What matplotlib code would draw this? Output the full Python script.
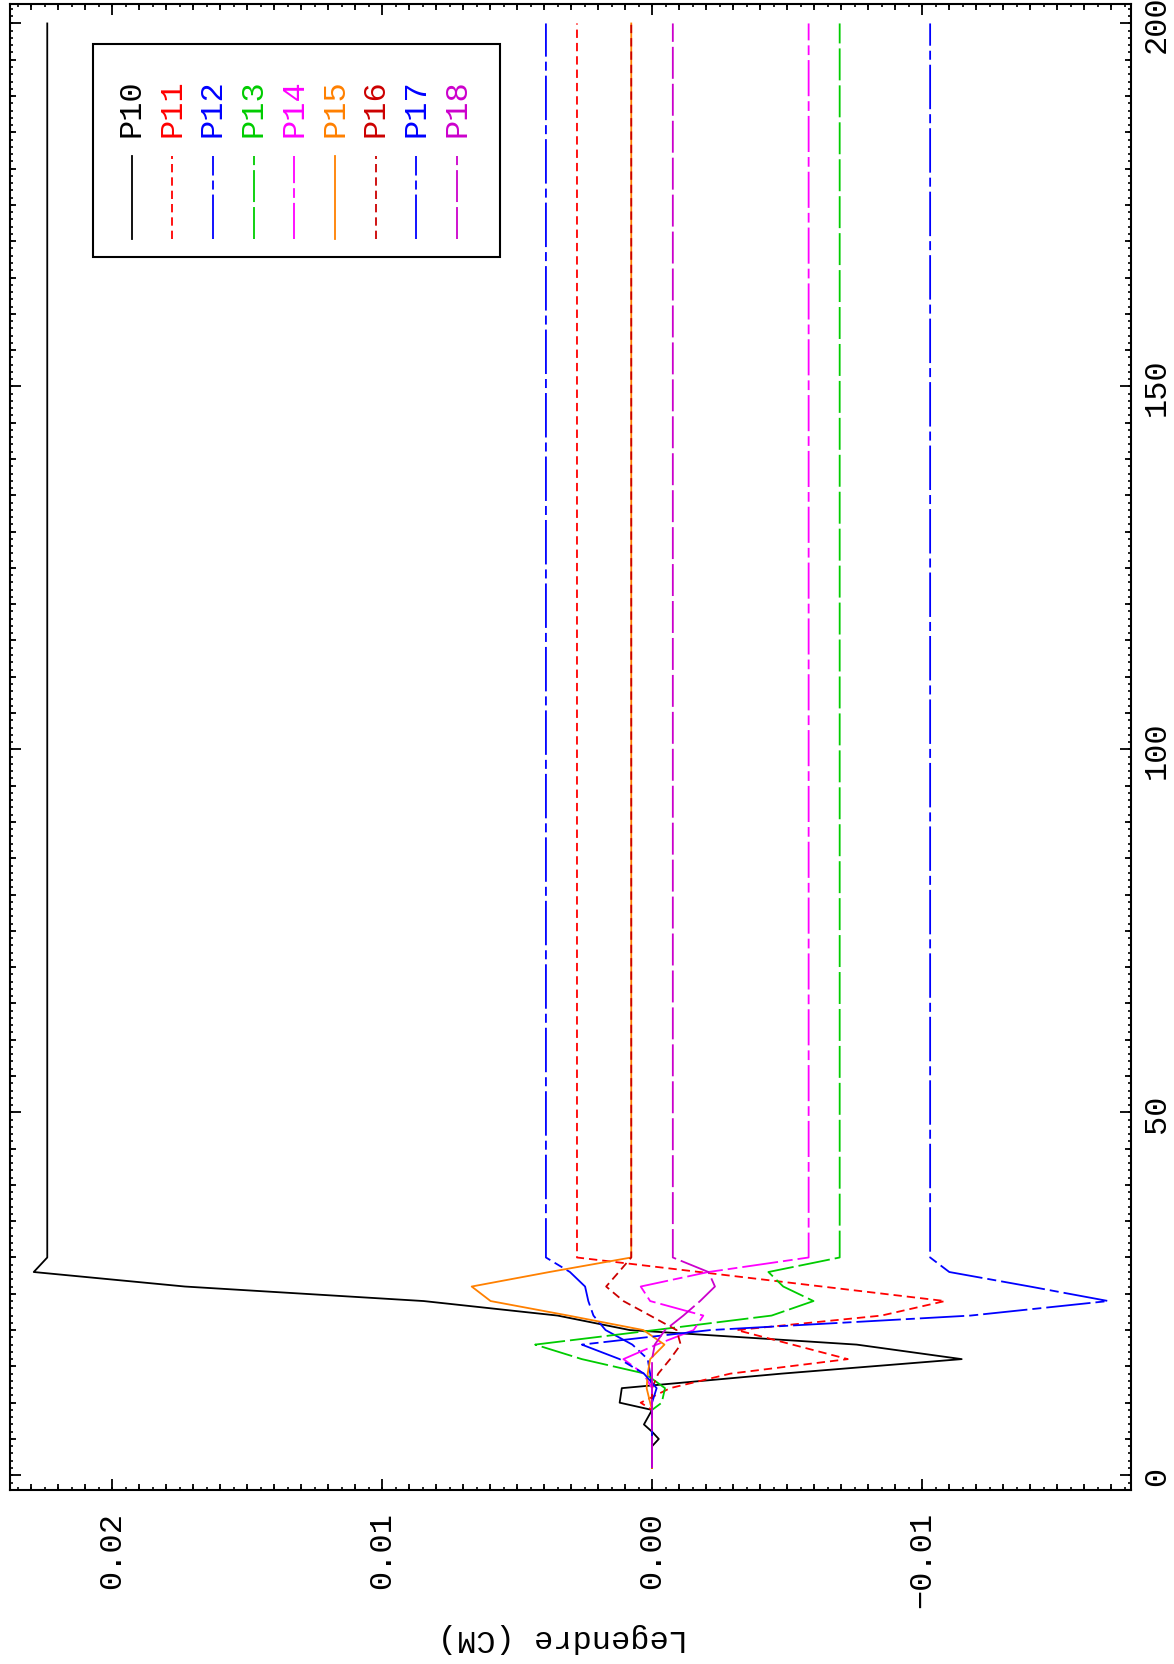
import numpy as np
import matplotlib
matplotlib.use("Agg")
import matplotlib.pyplot as plt
from matplotlib.ticker import FixedLocator, MultipleLocator
from matplotlib.lines import Line2D
from matplotlib.patches import Rectangle

plt.rcParams['font.family'] = ['Liberation Mono', 'DejaVu Sans']
plt.rcParams['lines.scale_dashes'] = False

# ---------------- data ----------------
T = [1, 2, 3, 4, 5, 6, 7, 8, 9, 10, 12, 14, 16, 18, 20, 22, 24, 26, 28, 30, 200]

P10 = [0, 0, 0, 0, -0.00025, 0.0, 0.0003, 0.00015, 0.0, 0.0012, 0.00112, -0.0048,
       -0.01147, -0.00758, 0.00082, 0.0035, 0.00846, 0.0173, 0.0229, 0.0224, 0.0224]
P11 = [0, 0, 0, 0, 0, 0, 0, 0, 0, 0.00042, -0.00067, -0.0029,
       -0.00725, -0.0052, -0.00314, -0.0085, -0.01085, -0.0063, -0.00176, 0.00278, 0.00278]
P12 = [0, 0, 0, 0, 0, 0, 0, 0, 0, 0, 0, 0.00007,
       0.00016, 0.00073, 0.00172, 0.00217, 0.00236, 0.00248, 0.00304, 0.00393, 0.00393]
P13 = [0, 0, 0, 0, 0, 0, 0, 0, 0, -0.00036, -0.00048, 0.00026,
       0.0026, 0.00433, -0.0001, -0.00443, -0.00598, -0.00486, -0.00431, -0.00695, -0.00695]
P14 = [0, 0, 0, 0, 0, 0, 0, 0, 0, 0, 0, 0.00032,
       0.00106, -0.00017, -0.00154, -0.0019, 0.00007, 0.00042, -0.00209, -0.0058, -0.0058]
P15 = [0, 0, 0, 0, 0, 0, 0, 0, 0, 0.00007, 0.0002, 0.00016,
       0.00007, -0.00046, 0.00032, 0.0031, 0.00598, 0.00668, 0.0038, 0.00077, 0.00077]
P16 = [0, 0, 0, 0, 0, 0, 0, 0, 0, 0, 0, -0.00023,
       -0.00067, -0.00106, -0.00091, 0.00007, 0.00106, 0.0017, 0.00123, 0.00077, 0.00077]
P17 = [0, 0, 0, 0, 0, 0, 0, 0, 0, 0, -0.00017, 0.0003,
       0.0012, 0.0026, -0.00215, -0.0118, -0.0169, -0.0140, -0.01101, -0.0103, -0.0103]
P18 = [0, 0, 0, 0, 0, 0, 0, 0, 0, 0, 0, 0,
       0, -0.0001, -0.00048, -0.00116, -0.00178, -0.00233, -0.00209, -0.00077, -0.00077]

names = ["P10", "P11", "P12", "P13", "P14", "P15", "P16", "P17", "P18"]
series = [P10, P11, P12, P13, P14, P15, P16, P17, P18]
colors = ["#000000", "#ff0000", "#0000ff", "#00cc00", "#ff00ff",
          "#ff8000", "#cc0000", "#0000ff", "#cc00cc"]
styles = ["-", (0, (6, 3.6)), (0, (32, 3.6, 6.5, 3.6)), (0, (23, 3.6)),
          (0, (26, 3.6, 7, 3.6)), "-", (0, (6, 3.6)), (0, (32, 3.6, 6.5, 3.6)),
          (0, (23, 3.6))]

val_ticks = [0.02, 0.01, 0.00, -0.01]
val_labels = ["0.02", "0.01", "0.00", "\u22120.01"]
t_ticks = [0, 50, 100, 150, 200]
t_labels = ["0", "50", "100", "150", "200"]
ylabel = "Legendre (CM)"

# ---------------- layout ----------------
W, H = 1174, 1665
fig = plt.figure(figsize=(W / 100, H / 100), dpi=100)
fig.patch.set_facecolor("white")

def fx(X):
    return X / W

def fy(Y):
    return 1 - Y / H

L, R, TOP, BOT = 10, 1131, 5, 1491
pos = [fx(L), fy(BOT), fx(R) - fx(L), fy(TOP) - fy(BOT)]
VLIM = (0.02378, -0.01774)
TLIM = (-2.03, 202.68)

ax = fig.add_axes(pos)
for s, n, c, ls in zip(series, names, colors, styles):
    ax.plot(s, T, color=c, linestyle=ls, lw=1.3, label=n)

ax.set_xlim(*VLIM)
ax.set_ylim(*TLIM)
for sp in ax.spines.values():
    sp.set_linewidth(1.5)

ax.xaxis.set_major_locator(FixedLocator(val_ticks))
ax.set_xticklabels(val_labels)
ax.xaxis.set_minor_locator(MultipleLocator(0.001))
ax.yaxis.set_major_locator(FixedLocator(t_ticks))
ax.set_yticklabels(t_labels)
ax.yaxis.set_minor_locator(MultipleLocator(5))

ax.tick_params(axis='both', which='both', direction='in', top=True, bottom=True,
               left=True, right=True, width=1.3)
ax.tick_params(axis='both', which='major', length=8)
ax.tick_params(axis='both', which='minor', length=4.4)
ax.tick_params(axis='x', which='major', labelsize=23, labelrotation=90, pad=15)
ax.tick_params(axis='y', which='major', labelsize=23, labelrotation=90, pad=8,
               labelleft=False, labelright=True)
for lbl in ax.get_yticklabels():
    lbl.set_va('center')
    lbl.set_ha('left')

# smallest ticks (third level) on an overlay axes
ax3 = fig.add_axes(pos, frameon=False)
ax3.set_xlim(*VLIM)
ax3.set_ylim(*TLIM)
ax3.patch.set_visible(False)
ax3.xaxis.set_major_locator(MultipleLocator(0.0005))
ax3.yaxis.set_major_locator(MultipleLocator(1))
ax3.tick_params(axis='both', which='both', direction='in', top=True, bottom=True,
                left=True, right=True, length=2.4, width=1.2,
                labelbottom=False, labelleft=False, labeltop=False, labelright=False)

# y label (upside down)
fig.text(fx(563), fy(1638), ylabel, rotation=180, ha='center', va='center', size=23)

# legend box (rotated legend drawn by hand)
fig.add_artist(Rectangle((fx(93), fy(258)), fx(500) - fx(93), fy(45) - fy(258),
                         transform=fig.transFigure, fill=False, lw=1.5, ec='black'))
for i, (n, c, ls) in enumerate(zip(names, colors, styles)):
    X = 131.5 + 40.7 * i
    fig.add_artist(Line2D([fx(X), fx(X)], [fy(240), fy(157)], transform=fig.transFigure,
                          color=c, linestyle=ls, lw=1.3))
    fig.text(fx(X), fy(108.5), n, rotation=90, ha='center', va='center',
             size=23, color=c)

fig.savefig("out.png", dpi=100)
